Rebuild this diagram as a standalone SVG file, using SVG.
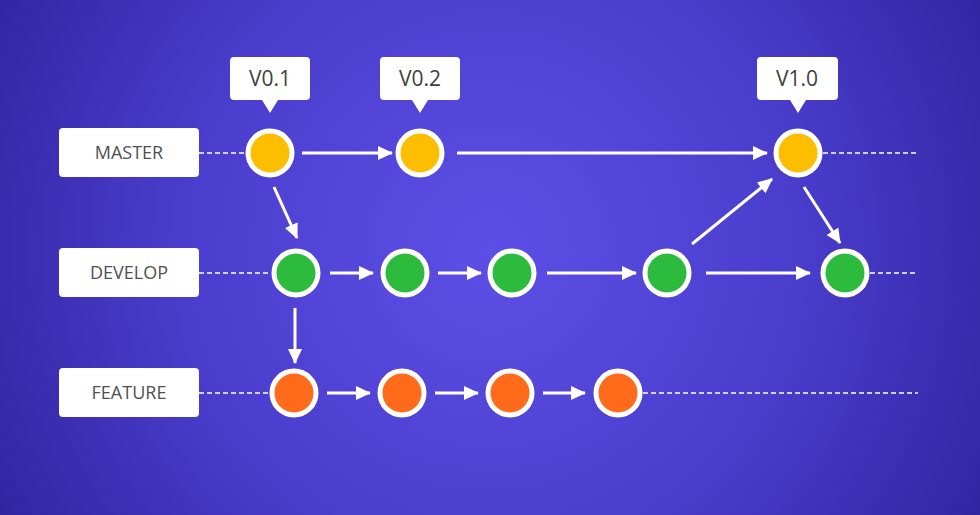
<svg xmlns="http://www.w3.org/2000/svg" width="980" height="515" viewBox="0 0 980 515">
<defs>
<radialGradient id="bg" cx="490" cy="250" r="560" gradientUnits="userSpaceOnUse">
<stop offset="0" stop-color="#5d4fe6"/>
<stop offset="0.55" stop-color="#4a3dcc"/>
<stop offset="1" stop-color="#3224a0"/>
</radialGradient>
<marker id="ah" markerUnits="userSpaceOnUse" markerWidth="16" markerHeight="16" viewBox="0 0 16 16" refX="14" refY="8" orient="auto">
<path d="M0,1 L15,8 L0,15 Z" fill="#fff"/>
</marker>
</defs>
<style>
.lbl rect{fill:#fff}
.lbl text{font-family:"Open Sans","Liberation Sans",sans-serif;font-size:18px;font-weight:500;fill:#505050;text-anchor:middle}
.tag path{fill:#fff}
.tag text{font-family:"Open Sans","Liberation Sans",sans-serif;font-size:21px;font-weight:500;fill:#404040;text-anchor:middle}
.c{stroke:#fff;stroke-width:5}
.m{fill:#fdbd00}.d{fill:#2dbb3e}.f{fill:#ff6b1a}
.dash{stroke:#fff;stroke-width:1.5;stroke-dasharray:5 3;fill:none}
.arr{stroke:#fff;stroke-width:3;fill:none;marker-end:url(#ah)}
</style>
<rect width="980" height="515" fill="url(#bg)"/>
<g id="connectors">
<line class="dash" x1="199" y1="153" x2="245" y2="153"/>
<line class="dash" x1="823" y1="153" x2="918" y2="153"/>
<line class="dash" x1="199" y1="273" x2="271" y2="273"/>
<line class="dash" x1="870" y1="273" x2="918" y2="273"/>
<line class="dash" x1="199" y1="393" x2="269" y2="393"/>
<line class="dash" x1="643" y1="393" x2="918" y2="393"/>
<line class="arr" x1="302" y1="153" x2="392" y2="153"/>
<line class="arr" x1="457" y1="153" x2="767" y2="153"/>
<line class="arr" x1="274" y1="187" x2="297" y2="238"/>
<line class="arr" x1="330" y1="273" x2="373" y2="273"/>
<line class="arr" x1="438" y1="273" x2="481" y2="273"/>
<line class="arr" x1="547" y1="273" x2="636" y2="273"/>
<line class="arr" x1="706" y1="273" x2="810" y2="273"/>
<line class="arr" x1="692" y1="244" x2="772" y2="179"/>
<line class="arr" x1="804" y1="187" x2="840" y2="243"/>
<line class="arr" x1="295" y1="308" x2="295" y2="363"/>
<line class="arr" x1="327" y1="393" x2="370" y2="393"/>
<line class="arr" x1="435" y1="393" x2="478" y2="393"/>
<line class="arr" x1="543" y1="393" x2="585" y2="393"/>
</g>
<g id="label-master" class="lbl"><rect x="59" y="128" width="140" height="49" rx="4"/><text x="129" y="159">MASTER</text></g>
<g id="label-develop" class="lbl"><rect x="59" y="248" width="140" height="49" rx="4"/><text x="129" y="279">DEVELOP</text></g>
<g id="label-feature" class="lbl"><rect x="59" y="368" width="140" height="49" rx="4"/><text x="129" y="399">FEATURE</text></g>
<g id="tag-v01" class="tag"><path d="M234,57 H306 Q310,57 310,61 V96 Q310,100 306,100 H278 L270,113 L262,100 H234 Q230,100 230,96 V61 Q230,57 234,57 Z"/><text x="270" y="86">V0.1</text></g>
<g id="tag-v02" class="tag"><path d="M384,57 H456 Q460,57 460,61 V96 Q460,100 456,100 H428 L420,113 L412,100 H384 Q380,100 380,96 V61 Q380,57 384,57 Z"/><text x="420" y="86">V0.2</text></g>
<g id="tag-v10" class="tag"><path d="M761,57 H834 Q838,57 838,61 V96 Q838,100 834,100 H806 L798,113 L790,100 H761 Q757,100 757,96 V61 Q757,57 761,57 Z"/><text x="797" y="86">V1.0</text></g>
<g id="m1"><circle class="c m" cx="270" cy="153" r="22"/></g>
<g id="m2"><circle class="c m" cx="420" cy="153" r="22"/></g>
<g id="m3"><circle class="c m" cx="798" cy="153" r="22"/></g>
<g id="d1"><circle class="c d" cx="296" cy="273" r="22"/></g>
<g id="d2"><circle class="c d" cx="405" cy="273" r="22"/></g>
<g id="d3"><circle class="c d" cx="512" cy="273" r="22"/></g>
<g id="d4"><circle class="c d" cx="667" cy="273" r="22"/></g>
<g id="d5"><circle class="c d" cx="845" cy="273" r="22"/></g>
<g id="f1"><circle class="c f" cx="294" cy="393" r="22"/></g>
<g id="f2"><circle class="c f" cx="402" cy="393" r="22"/></g>
<g id="f3"><circle class="c f" cx="510" cy="393" r="22"/></g>
<g id="f4"><circle class="c f" cx="618" cy="393" r="22"/></g>
</svg>
